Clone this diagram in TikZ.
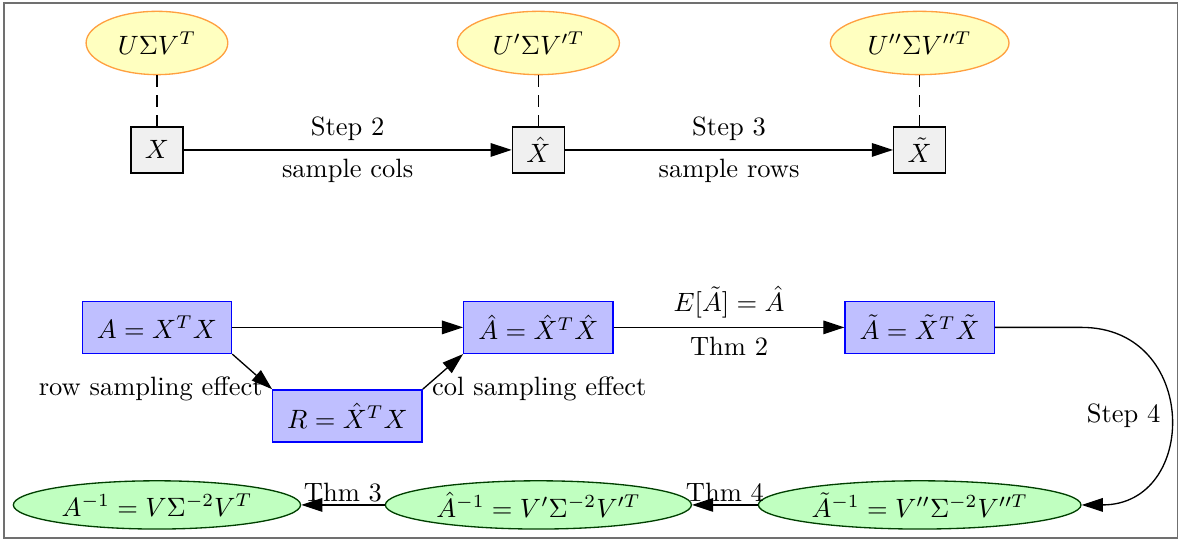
\documentclass[tikz,border=0pt]{standalone}
\usepackage{amsmath}
\usetikzlibrary{arrows.meta,shapes.geometric}

\definecolor{svdfill}{HTML}{FFFFC0}
\definecolor{svdline}{HTML}{FFA040}
\definecolor{matfill}{HTML}{F0F0F0}
\definecolor{gramfill}{HTML}{BFBFFF}
\definecolor{invfill}{HTML}{C0FFC0}
\definecolor{invline}{HTML}{004000}
\definecolor{framegray}{HTML}{707070}

\begin{document}
\begin{tikzpicture}[
  line width=0.5pt,
  svd/.style={ellipse, draw=svdline, fill=svdfill, minimum height=0.84cm, inner sep=0pt},
  mat/.style={rectangle, draw, fill=matfill, minimum width=0.69cm, minimum height=0.61cm, inner sep=0pt},
  gram/.style={rectangle, draw=blue, fill=gramfill, minimum width=1.98cm, minimum height=0.69cm, inner sep=0pt},
  inv/.style={ellipse, draw=invline, fill=invfill, minimum height=0.64cm, inner sep=0pt},
  arr/.style={-{Triangle[length=2.8mm,width=1.8mm]}},
  link/.style={line width=0.6pt, dash pattern=on 4.5pt off 3pt}
]
  \useasboundingbox (0,0) rectangle (15.68,7.175);
  \draw[framegray, line width=0.7pt] (0.05,0.04) rectangle (15.62,7.14); % Frame

  % Top row: the data matrices and their SVDs
  \node[svd, minimum width=1.88cm] (svdX)  at (2.082, 6.605) {$U\Sigma V^T$};
  \node[svd, minimum width=2.15cm] (svdXh) at (7.142, 6.605) {$U'\Sigma V'^T$};
  \node[svd, minimum width=2.37cm] (svdXt) at (12.20, 6.605) {$U''\Sigma V''^T$};

  \node[mat] (X)  at (2.082, 5.186) {$X$};
  \node[mat] (Xh) at (7.142, 5.186) {$\hat{X}$};
  \node[mat] (Xt) at (12.20, 5.186) {$\tilde{X}$};

  \draw[link] (svdX) -- (X);
  \draw[link] (svdXh) -- (Xh);
  \draw[link] (svdXt) -- (Xt);

  \draw[arr] (X) -- (Xh) node[midway, above] {Step 2} node[midway, below] {sample cols};
  \draw[arr] (Xh) -- (Xt) node[midway, above] {Step 3} node[midway, below] {sample rows};

  % Middle rows: Gram matrices
  \node[gram] (A)  at (2.082, 2.832) {$A = X^T X$};
  \node[gram] (Ah) at (7.142, 2.832) {$\hat{A} = \hat{X}^T \hat{X}$};
  \node[gram] (At) at (12.20, 2.832) {$\tilde{A} = \tilde{X}^T \tilde{X}$};
  \node[gram] (R)  at (4.609, 1.658) {$R = \hat{X}^T X$};

  \draw[arr] (A) -- (Ah);
  \draw[arr] (A.south east) -- (R.north west) node[pos=1, left] {row sampling effect};
  \draw[arr] (R.north east) -- (Ah.south west) node[pos=0, right] {col sampling effect};
  \draw[arr] (Ah) -- (At) node[midway, above] {$E[\tilde{A}] = \hat{A}$} node[midway, below] {Thm 2};

  % Bottom row: the inverses
  \node[inv, minimum width=3.81cm] (Ai)  at (2.082, 0.477) {$A^{-1} = V \Sigma^{-2} V^T$};
  \node[inv, minimum width=4.06cm] (Ahi) at (7.142, 0.477) {$\hat{A}^{-1} = V' \Sigma^{-2} V'^T$};
  \node[inv, minimum width=4.28cm] (Ati) at (12.20, 0.477) {$\tilde{A}^{-1} = V'' \Sigma^{-2} V''^T$};

  \coordinate (turn) at (At.east -| Ati.east);
  \draw[arr] (At.east) -- (turn) .. controls +(1.56,0) and +(1.56,0) .. node[left] {Step 4} (Ati.east);
  \draw[arr] (Ati) -- (Ahi) node[midway, above, inner sep=1pt] {Thm 4};
  \draw[arr] (Ahi) -- (Ai) node[midway, above, inner sep=1pt] {Thm 3};
\end{tikzpicture}
\end{document}
